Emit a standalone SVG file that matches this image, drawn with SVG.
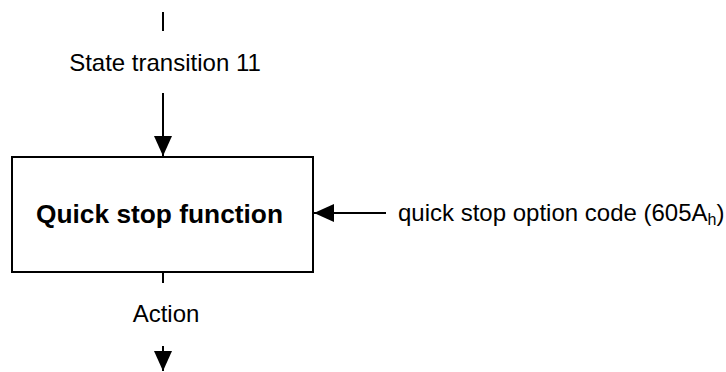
<svg xmlns="http://www.w3.org/2000/svg" width="726" height="372" viewBox="0 0 726 372">
<defs>
<style>
.ln{stroke:#000;stroke-width:2;fill:none}
.t{font-family:"Liberation Sans",Arial,sans-serif;font-size:24px;fill:#000}
.b{font-family:"Liberation Sans",Arial,sans-serif;font-size:26.3px;font-weight:bold;fill:#000}
</style>
<marker id="ah" markerUnits="userSpaceOnUse" markerWidth="20" markerHeight="20" viewBox="0 0 20 20" refX="20" refY="10" orient="auto">
<path d="M0,1 L20,10 L0,19 Z" fill="#000"/>
</marker>
</defs>
<rect width="726" height="372" fill="#fff"/>
<g id="node-quickstop">
<rect class="ln" x="12" y="157" width="301" height="115"/>
<text class="b" x="159.5" y="223" text-anchor="middle">Quick stop function</text>
</g>
<g id="connectors">
<line class="ln" x1="163" y1="12" x2="163" y2="31"/>
<text class="t" x="165" y="71" text-anchor="middle">State transition 11</text>
<line class="ln" x1="163" y1="93" x2="163" y2="156" marker-end="url(#ah)"/>
<line class="ln" x1="386" y1="213" x2="314" y2="213" marker-end="url(#ah)"/>
<text class="t" x="398" y="221">quick stop option code (605A<tspan font-size="16" dy="4">h</tspan><tspan dy="-4">)</tspan></text>
<line class="ln" x1="163" y1="272" x2="163" y2="283"/>
<text class="t" x="166" y="322" text-anchor="middle">Action</text>
<line class="ln" x1="163" y1="346" x2="163" y2="371" marker-end="url(#ah)"/>
</g>
</svg>
